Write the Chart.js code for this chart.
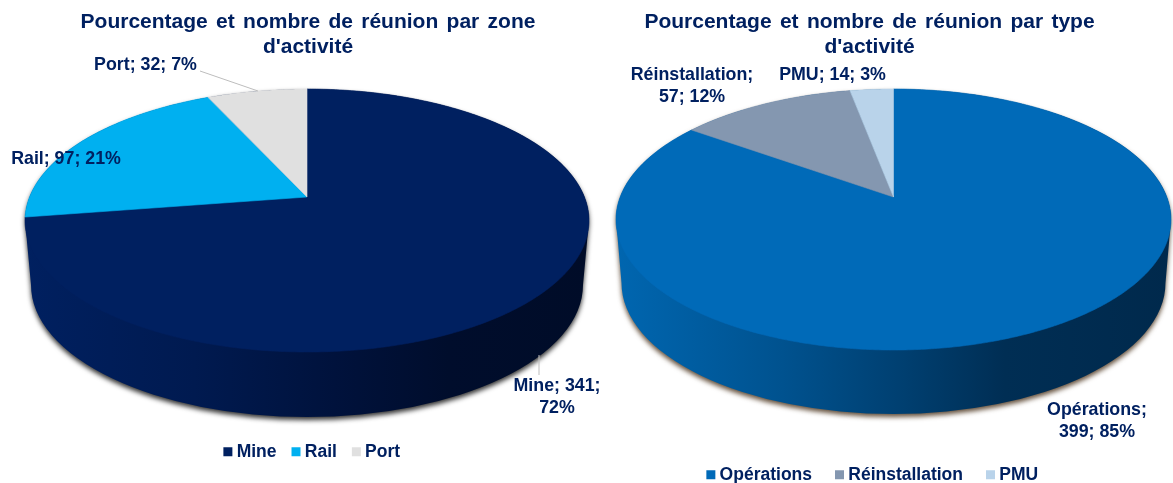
<!DOCTYPE html>
<html><head><meta charset="utf-8">
<style>html,body{margin:0;padding:0;background:#fff;overflow:hidden}canvas{position:absolute;left:0;top:0}</style>
<script src="https://cdn.jsdelivr.net/npm/chart.js@4/dist/chart.umd.min.js"></script>
</head><body>
<canvas id="c1" width="1173" height="483"></canvas>
<canvas id="c2" width="1173" height="483"></canvas>
<script>
const zoneLabels = ['Mine', 'Rail', 'Port'];
const zoneValues = [341, 97, 32];
const zonePercents = [72, 21, 7];
const zoneColors = ['#002060', '#00B0F0', '#E0E0E0'];
const typeLabels = ['Opérations', 'Réinstallation', 'PMU'];
const typeValues = [399, 57, 14];
const typePercents = [85, 12, 3];
const typeColors = ['#006AB8', '#8497B0', '#B9D3EA'];
const titleLines1 = ['Pourcentage et nombre de réunion par zone', "d'activité"];
const titleLines2 = ['Pourcentage et nombre de réunion par type', "d'activité"];
const INK = '#002060';
const FONT = '"Liberation Sans", Arial, sans-serif';

// Perspective mapping of a unit circle on to the visible top face of the pie.
function facePoint(g, angle) {
  const u = Math.cos(angle), v = Math.sin(angle);
  const p = (g.up - g.down) / (g.up + g.down);
  const b = g.up * (1 - p);
  const a = g.rx * Math.sqrt(1 - p * p);
  const d = 1 + p * v;
  return [g.cx + a * u / d, g.cy + b * v / d];
}

// Each slice is drawn by its own ArcElement, from the angles the library computed.
Chart.ArcElement.prototype.draw = function (ctx) {
  const chart = Chart.getChart(ctx.canvas);
  const g = chart.options.plugins.pie3d;
  const {startAngle, endAngle} = this;
  ctx.save();
  ctx.beginPath();
  ctx.moveTo(g.cx, g.cy);
  const n = Math.max(2, Math.ceil((endAngle - startAngle) / 0.01));
  for (let i = 0; i <= n; i++) {
    const pt = facePoint(g, startAngle + (endAngle - startAngle) * i / n);
    ctx.lineTo(pt[0], pt[1]);
  }
  ctx.closePath();
  ctx.fillStyle = this.options.backgroundColor;
  ctx.strokeStyle = this.options.backgroundColor;
  ctx.lineWidth = 0.6;
  ctx.fill();
  ctx.stroke();
  ctx.restore();
};

const pie3d = {
  id: 'pie3d',
  afterLayout(chart, args, o) {
    const t = chart.titleBlock, l = chart.legend;
    t.left = o.titleCx - 300; t.right = o.titleCx + 300; t.top = o.titleTop;
    t.bottom = t.top + t.height;
    const h = l.height, pad = l.options.labels.padding;
    l.left = o.legendCx - 300; l.right = o.legendCx + 300;
    l.top = o.legendY - pad - 8; l.bottom = l.top + h;
  },
  beforeDraw(chart, args, o) {
    chart.ctx.wordSpacing = o.titleWordSpacing;
  },
  beforeDatasetsDraw(chart, args, o) {
    const ctx = chart.ctx;
    ctx.wordSpacing = '0px';
    ctx.save();
    ctx.beginPath();
    ctx.moveTo(o.cx - o.rx, o.topCy);
    ctx.lineTo(o.cx - o.baseRx, o.baseCy);
    ctx.ellipse(o.cx, o.baseCy, o.baseRx, o.baseRy, 0, Math.PI, 0, true);
    ctx.lineTo(o.cx + o.rx, o.topCy);
    ctx.ellipse(o.cx, o.topCy, o.rx, (o.up + o.down) / 2, 0, 0, Math.PI, true);
    ctx.closePath();
    const grad = ctx.createLinearGradient(o.cx - o.rx, 0, o.cx + o.rx, 0);
    o.side.forEach(s => grad.addColorStop(s[0], s[1]));
    ctx.shadowColor = o.shadow;
    ctx.shadowBlur = 5;
    ctx.shadowOffsetY = 3;
    ctx.fillStyle = grad;
    ctx.fill();
    ctx.restore();
  },
  afterDatasetsDraw(chart, args, o) {
    const ctx = chart.ctx;
    const ds = chart.data.datasets[0].data;
    ctx.save();
    ctx.strokeStyle = '#BDBDBD';
    ctx.lineWidth = 1;
    o.leaders.forEach(s => {
      ctx.beginPath();
      s.forEach((q, i) => i ? ctx.lineTo(q[0], q[1]) : ctx.moveTo(q[0], q[1]));
      ctx.stroke();
    });
    ctx.fillStyle = INK;
    ctx.font = 'bold ' + o.labelSize + 'px ' + FONT;
    ctx.textAlign = 'center';
    ctx.textBaseline = 'middle';
    chart.data.labels.forEach((name, i) => {
      const pct = o.percents[i] + '%';
      const spot = o.labels[i];
      const lines = spot.brk === 1 ? [name + ';', ds[i] + '; ' + pct]
                  : spot.brk === 2 ? [name + '; ' + ds[i] + ';', pct]
                  : [name + '; ' + ds[i] + '; ' + pct];
      lines.forEach((ln, k) => ctx.fillText(ln, spot.x, spot.y + k * 22));
    });
    ctx.restore();
  }
};

function makePie(id, labels, values, colors, title, geom, legendPad) {
  new Chart(document.getElementById(id), {
    type: 'pie',
    data: {labels, datasets: [{data: values, backgroundColor: colors, borderWidth: 0}]},
    options: {
      responsive: false,
      animation: false,
      events: [],
      plugins: {
        title: {display: true, text: title, color: INK, padding: 0,
                font: {family: FONT, size: 21, weight: 'bold', lineHeight: 1.21}},
        legend: {position: 'bottom',
                 labels: {color: INK, font: {family: FONT, size: 17.5, weight: 'bold'},
                          usePointStyle: true, pointStyle: 'rect', boxWidth: 0.01, boxHeight: 9,
                          padding: legendPad}},
        tooltip: {enabled: false},
        pie3d: geom
      }
    },
    plugins: [pie3d]
  });
}

makePie('c1', zoneLabels, zoneValues, zoneColors, titleLines1, {
  cx: 307, cy: 197, rx: 282, up: 108, down: 155, topCy: 220.5,
  baseRx: 276, baseCy: 285, baseRy: 132,
  side: [[0, '#002060'], [0.3, '#001A50'], [0.55, '#00123C'], [0.75, '#000D2C'], [1, '#000C28']],
  shadow: 'rgba(0,0,0,0.8)', titleWordSpacing: '2.5px', percents: zonePercents,
  titleCx: 308, titleTop: 9, legendCx: 314, legendY: 451, labelSize: 17.8,
  labels: [{x: 557, y: 386.5, brk: 2}, {x: 66, y: 159.5}, {x: 145.5, y: 65}],
  leaders: [[[539, 355], [539, 375]], [[200, 71], [258, 91]]]
}, 19.5);

makePie('c2', typeLabels, typeValues, typeColors, titleLines2, {
  cx: 893.5, cy: 197, rx: 277.5, up: 108, down: 153, topCy: 219.5,
  baseRx: 272, baseCy: 283, baseRy: 131,
  side: [[0, '#0066B0'], [0.3, '#00528F'], [0.52, '#003F70'], [0.7, '#002E54'], [1, '#00294C']],
  shadow: 'rgba(60,35,10,0.8)', titleWordSpacing: '2.5px', percents: typePercents,
  titleCx: 869.5, titleTop: 9, legendCx: 874.5, legendY: 474, labelSize: 17.8,
  labels: [{x: 1097, y: 410.5, brk: 1}, {x: 692, y: 75.5, brk: 1}, {x: 832.5, y: 75.5}],
  leaders: []
}, 27.5);
</script>
</body></html>
